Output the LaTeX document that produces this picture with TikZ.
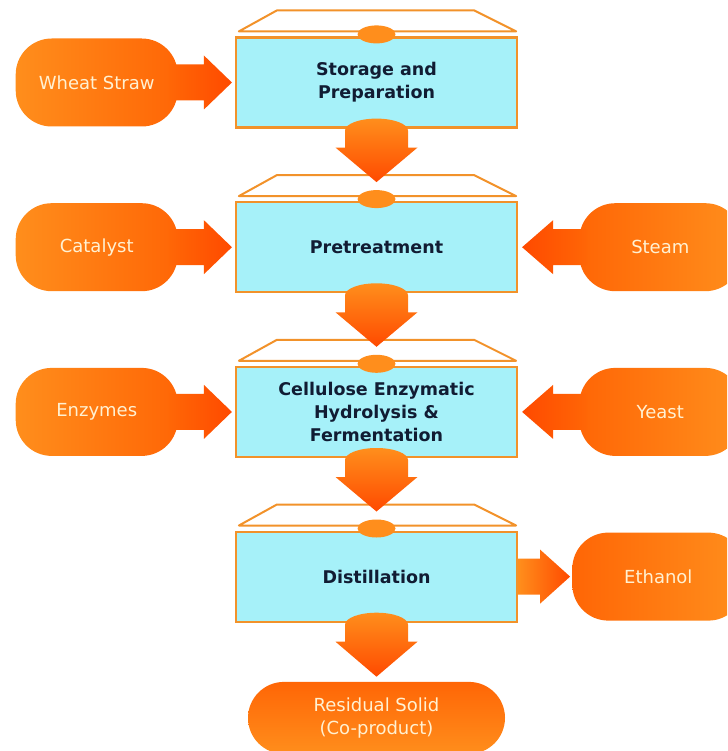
\documentclass[tikz,border=0pt]{standalone}
\usepackage{fontspec}
\setmainfont{DejaVu Sans}
\usepackage{xcolor}
\usepackage{tikz}
\usetikzlibrary{positioning, calc, shapes.geometric}

\definecolor{boxcyan}{HTML}{A6F1F9}
\definecolor{boxline}{HTML}{F2922A}
\definecolor{navy}{HTML}{111C33}
\definecolor{orlight}{HTML}{FF8E1C}
\definecolor{ordark}{HTML}{FF6606}
\definecolor{ortip}{HTML}{FF4A00}
\definecolor{pilltext}{HTML}{FFF1D2}

\begin{document}
\begin{tikzpicture}[
  x=1pt, y=-1pt,
  node distance=72.5pt and 57pt,
  process/.style={
    rectangle, draw=boxline, fill=boxcyan, line width=2.2pt,
    minimum width=281pt, minimum height=90pt, align=center,
    text=navy, font=\bfseries\fontsize{17.5}{23}\selectfont
  },
  lid/.style={draw=boxline, fill=white, line width=2pt, line join=round},
  knob/.style={ellipse, fill=orlight, minimum width=38pt, minimum height=18pt, inner sep=0pt},
  pill/.style={
    rectangle, rounded corners=36pt, minimum width=162pt, minimum height=88pt,
    align=center, text=pilltext, font=\fontsize{18}{23}\selectfont
  },
  inpill/.style={pill, left color=orlight, right color=ordark},
  outpill/.style={pill, left color=ordark, right color=orlight},
  rarrow/.style={left color=ordark, right color=ortip},
  larrow/.style={left color=ortip, right color=ordark},
  darrow/.style={top color=orlight, bottom color=ortip}
]
  \useasboundingbox (0,0) rectangle (727,751);
  \clip (0,0) rectangle (727,751);

  % process steps
  \node [process] (store) at (376.5,82.5) {Storage and\\Preparation};
  \node [process, below=of store] (pre) {Pretreatment};
  \node [process, below=of pre] (hydro) {Cellulose Enzymatic\\Hydrolysis \&\\Fermentation};
  \node [process, below=of hydro] (dist) {Distillation};

  % inputs and outputs
  \node [inpill, left=of store] (straw) {Wheat Straw};
  \node [inpill, left=of pre] (cat) {Catalyst};
  \node [inpill, left=of hydro] (enz) {Enzymes};
  \node [outpill, right=61pt of pre] (steam) {Steam};
  \node [outpill, right=61pt of hydro] (yeast) {Yeast};
  \node [outpill, minimum width=172pt, right=54pt of dist] (eth) {Ethanol};
  \node [pill, top color=ordark, bottom color=orlight, minimum width=257pt,
         minimum height=72pt, below=59pt of dist] (resid) {Residual Solid\\(Co-product)};

  % lids
  \draw [lid] ($(store.north west)+(4,-5)$) -- ($(store.north west)+(42,-26)$) -- ($(store.north east)+(-44,-26)$) -- ($(store.north east)+(-2,-5)$) -- cycle;
  \draw [lid] ($(pre.north west)+(4,-5)$) -- ($(pre.north west)+(42,-26)$) -- ($(pre.north east)+(-44,-26)$) -- ($(pre.north east)+(-2,-5)$) -- cycle;
  \draw [lid] ($(hydro.north west)+(4,-5)$) -- ($(hydro.north west)+(42,-26)$) -- ($(hydro.north east)+(-44,-26)$) -- ($(hydro.north east)+(-2,-5)$) -- cycle;
  \draw [lid] ($(dist.north west)+(4,-5)$) -- ($(dist.north west)+(42,-26)$) -- ($(dist.north east)+(-44,-26)$) -- ($(dist.north east)+(-2,-5)$) -- cycle;
  \node [knob] (knob1) at ($(store.north)+(0,-2)$) {};
  \node [knob] (knob2) at ($(pre.north)+(0,-2)$) {};
  \node [knob] (knob3) at ($(hydro.north)+(0,-2)$) {};
  \node [knob] (knob4) at ($(dist.north)+(0,-2)$) {};

  % side arrows
  \path [rarrow] ($(straw.east)+(-8,-18)$) -- ($(store.west)+(-31,-18)$) -- ($(store.west)+(-31,-27)$) -- ($(store.west)+(-3,0)$) -- ($(store.west)+(-31,27)$) -- ($(store.west)+(-31,18)$) -- ($(straw.east)+(-8,18)$) -- cycle;
  \path [rarrow] ($(cat.east)+(-8,-18)$) -- ($(pre.west)+(-31,-18)$) -- ($(pre.west)+(-31,-27)$) -- ($(pre.west)+(-3,0)$) -- ($(pre.west)+(-31,27)$) -- ($(pre.west)+(-31,18)$) -- ($(cat.east)+(-8,18)$) -- cycle;
  \path [rarrow] ($(enz.east)+(-8,-18)$) -- ($(hydro.west)+(-31,-18)$) -- ($(hydro.west)+(-31,-27)$) -- ($(hydro.west)+(-3,0)$) -- ($(hydro.west)+(-31,27)$) -- ($(hydro.west)+(-31,18)$) -- ($(enz.east)+(-8,18)$) -- cycle;
  \path [larrow] ($(steam.west)+(8,-18)$) -- ($(pre.east)+(35,-18)$) -- ($(pre.east)+(35,-27)$) -- ($(pre.east)+(4,0)$) -- ($(pre.east)+(35,27)$) -- ($(pre.east)+(35,18)$) -- ($(steam.west)+(8,18)$) -- cycle;
  \path [larrow] ($(yeast.west)+(8,-18)$) -- ($(hydro.east)+(35,-18)$) -- ($(hydro.east)+(35,-27)$) -- ($(hydro.east)+(4,0)$) -- ($(hydro.east)+(35,27)$) -- ($(hydro.east)+(35,18)$) -- ($(yeast.west)+(8,18)$) -- cycle;
  \path [rarrow, left color=orlight] ($(dist.east)+(0,-18)$) -- ($(eth.west)+(-32,-18)$) -- ($(eth.west)+(-32,-27)$) -- ($(eth.west)+(-2,0)$) -- ($(eth.west)+(-32,27)$) -- ($(eth.west)+(-32,18)$) -- ($(dist.east)+(0,18)$) -- cycle;

  % down arrows
  \path [darrow] ($(store.south)+(-31.5,2)$) arc [start angle=180, end angle=0, x radius=31.5pt, y radius=12pt] -- ($(store.south)+(31.5,19)$) -- ($(store.south)+(41,19)$) -- ($(pre.north)+(0,-19)$) -- ($(store.south)+(-41,19)$) -- ($(store.south)+(-31.5,19)$) -- cycle;
  \path [darrow] ($(pre.south)+(-31.5,2)$) arc [start angle=180, end angle=0, x radius=31.5pt, y radius=12pt] -- ($(pre.south)+(31.5,19)$) -- ($(pre.south)+(41,19)$) -- ($(hydro.north)+(0,-19)$) -- ($(pre.south)+(-41,19)$) -- ($(pre.south)+(-31.5,19)$) -- cycle;
  \path [darrow] ($(hydro.south)+(-31.5,2)$) arc [start angle=180, end angle=0, x radius=31.5pt, y radius=12pt] -- ($(hydro.south)+(31.5,19)$) -- ($(hydro.south)+(41,19)$) -- ($(dist.north)+(0,-19)$) -- ($(hydro.south)+(-41,19)$) -- ($(hydro.south)+(-31.5,19)$) -- cycle;
  \path [darrow] ($(dist.south)+(-31.5,2)$) arc [start angle=180, end angle=0, x radius=31.5pt, y radius=12pt] -- ($(dist.south)+(31.5,19)$) -- ($(dist.south)+(41,19)$) -- ($(resid.north)+(0,-5)$) -- ($(dist.south)+(-41,19)$) -- ($(dist.south)+(-31.5,19)$) -- cycle;

\end{tikzpicture}
\end{document}
